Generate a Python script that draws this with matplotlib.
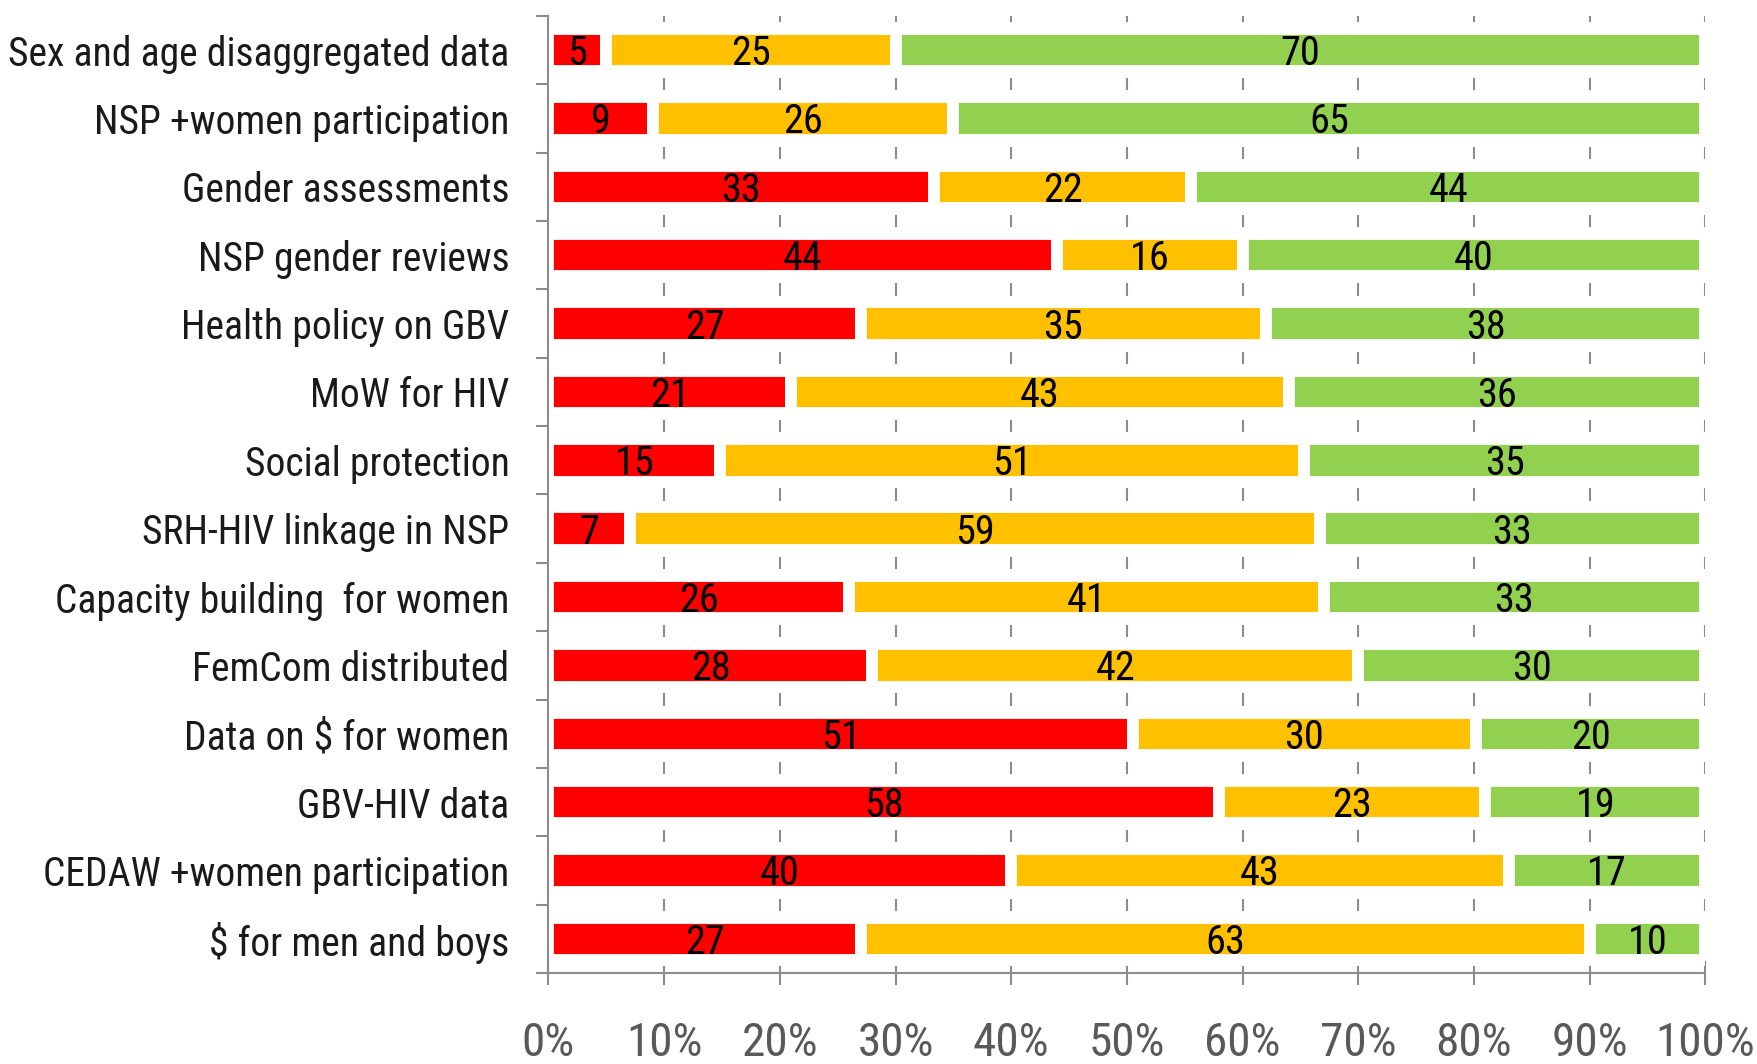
import numpy as np
import matplotlib
matplotlib.use("Agg")
import matplotlib.pyplot as plt

plt.rcParams['font.family'] = ['Roboto Condensed', 'Liberation Sans Narrow', 'Lato', 'DejaVu Sans']
plt.rcParams['text.parse_math'] = False

categories = [
    'Sex and age disaggregated data',
    'NSP +women participation',
    'Gender assessments',
    'NSP gender reviews',
    'Health policy on GBV',
    'MoW for HIV',
    'Social protection',
    'SRH-HIV linkage in NSP',
    'Capacity building  for women',
    'FemCom distributed',
    'Data on $ for women',
    'GBV-HIV data',
    'CEDAW +women participation',
    '$ for men and boys',
]
red_vals = [5, 9, 33, 44, 27, 21, 15, 7, 26, 28, 51, 58, 40, 27]
amber_vals = [25, 26, 22, 16, 35, 43, 51, 59, 41, 42, 30, 23, 43, 63]
green_vals = [70, 65, 44, 40, 38, 36, 35, 33, 33, 30, 20, 19, 17, 10]
x_ticks = [0, 10, 20, 30, 40, 50, 60, 70, 80, 90, 100]

colors = ['#ff0000', '#ffc000', '#92d050']
axis_grey = '#8c8c8c'

series = np.array([red_vals, amber_vals, green_vals], dtype=float)
shares = series / series.sum(axis=0) * 100
y = np.arange(len(categories))

fig = plt.figure(figsize=(17.58, 10.64), dpi=100)
ax = fig.add_axes([0.312, 0.0855, 0.658, 0.8995])

# short dashed markers between rows (the gridlines only show in the gaps)
for b in np.arange(-0.5, len(categories) - 1, 1.0):
    ax.vlines(x_ticks[1:], b - 0.09, b + 0.09, color=axis_grey, lw=1.5, zorder=0)

left = np.zeros(len(categories))
for k in range(3):
    ax.barh(y, shares[k], left=left, height=0.62, color=colors[k],
            edgecolor='white', linewidth=8.5, zorder=2)
    for i in range(len(categories)):
        ax.text(left[i] + shares[k][i] / 2, y[i] + 0.05, '%d' % series[k][i],
                ha='center', va='center', fontsize=29, color='black', zorder=3)
    left = left + shares[k]

ax.set_xlim(0, 100)
ax.set_ylim(len(categories) - 0.5, -0.5)

ax.set_xticks(x_ticks)
ax.set_xticklabels(['%d%%' % v for v in x_ticks], fontsize=34, color='#595959')
ax.tick_params(axis='x', direction='inout', length=17, width=1.5, color=axis_grey, pad=26)

ax.set_yticks(y)
ax.set_yticklabels(categories, fontsize=28.5, color='#1a1a1a')
ax.set_yticks(np.arange(-0.5, len(categories), 1.0), minor=True)
ax.tick_params(axis='y', which='major', length=0, pad=28)
ax.tick_params(axis='y', which='minor', length=8.5, width=1.5, color=axis_grey)

for side in ['top', 'right']:
    ax.spines[side].set_visible(False)
for side in ['left', 'bottom']:
    ax.spines[side].set_color(axis_grey)
    ax.spines[side].set_linewidth(1.5)

fig.savefig('out.png', dpi=100)
